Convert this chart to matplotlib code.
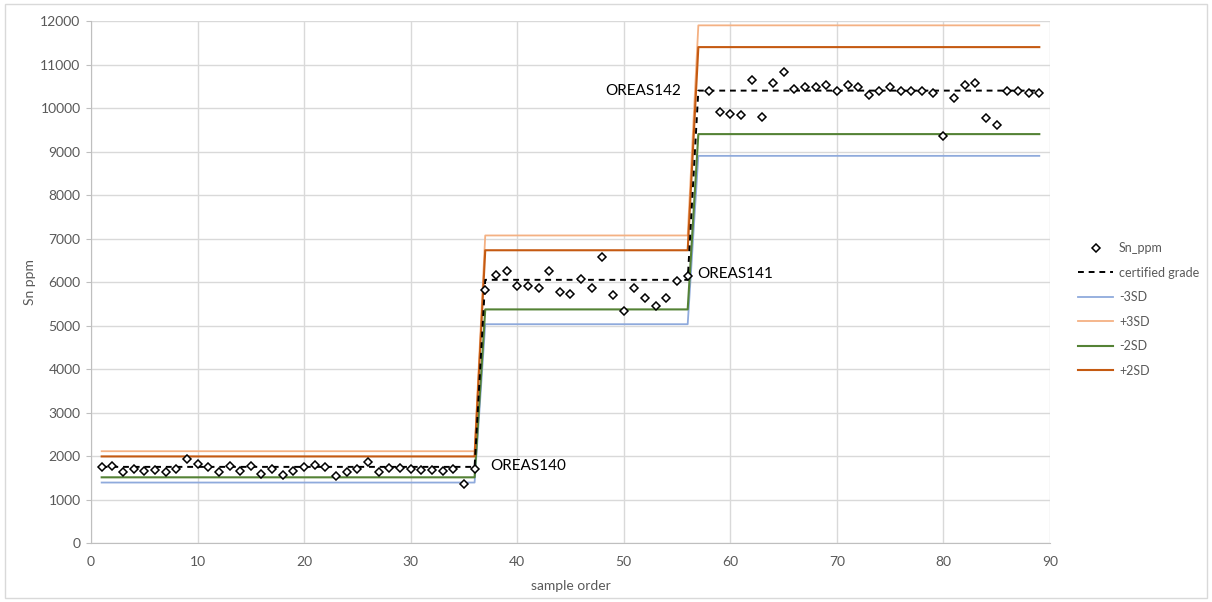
import numpy as np
import matplotlib
matplotlib.use("Agg")
from matplotlib import pyplot as plt
from matplotlib.patches import Rectangle

plt.rcParams['font.family'] = ['Lato', 'DejaVu Sans']

# Sn assay results by sample order (sample 57 not visible in the chart)
sn_ppm = [1740, 1763, 1625, 1708, 1662, 1671, 1632, 1694, 1924, 1823,
          1754, 1632, 1777, 1648, 1777, 1593, 1708, 1563, 1662, 1740,
          1800, 1740, 1547, 1639, 1708, 1855, 1639, 1731, 1731, 1694,
          1678, 1678, 1662, 1701, 1356, 1708,
          5809, 6168, 6246, 5908, 5908, 5855, 6260, 5763, 5732, 6069,
          5855, 6582, 5709, 5341, 5870, 5625, 5448, 5640, 6030, 6138,
          np.nan, 10391, 9908, 9871, 9839, 10637, 9793, 10584, 10837, 10439,
          10492, 10492, 10538, 10391, 10538, 10492, 10294, 10391, 10492, 10391,
          10391, 10391, 10338, 9365, 10237, 10538, 10584, 9763, 9617, 10391,
          10391, 10338, 10338]
sample_order = np.arange(1, len(sn_ppm) + 1)

# standards used, how many consecutive samples each covers, and their limits
standards = ["OREAS140", "OREAS141", "OREAS142"]
n_samples = [36, 20, 33]
certified = [1750, 6050, 10400]
minus_3sd = [1390, 5030, 8900]
plus_3sd = [2110, 7070, 11900]
minus_2sd = [1510, 5370, 9400]
plus_2sd = [1990, 6730, 11400]

# label anchor points (x, y)
label_x = [37.5, 56.9, 48.3]
label_y = [1770, 6180, 10390]

fig = plt.figure(figsize=(12.12, 6.02), dpi=100)
ax = fig.add_axes([0.0751, 0.098, 0.7912, 0.8671])

ax.plot(sample_order, sn_ppm, linestyle='none', marker='D', markersize=4.5,
        markerfacecolor='white', markeredgecolor='black', markeredgewidth=1.1,
        label='Sn_ppm', zorder=5)
ax.plot(sample_order, np.repeat(certified, n_samples), color='black',
        linestyle=(0, (3, 2.5)), linewidth=1.4, label='certified grade', zorder=4)
ax.plot(sample_order, np.repeat(minus_3sd, n_samples), color='#8FAADC',
        linewidth=1.3, label='-3SD', zorder=3)
ax.plot(sample_order, np.repeat(plus_3sd, n_samples), color='#F4B183',
        linewidth=1.3, label='+3SD', zorder=3)
ax.plot(sample_order, np.repeat(minus_2sd, n_samples), color='#548235',
        linewidth=1.5, label='-2SD', zorder=3)
ax.plot(sample_order, np.repeat(plus_2sd, n_samples), color='#C55A11',
        linewidth=1.5, label='+2SD', zorder=3)

for name, lx, ly in zip(standards, label_x, label_y):
    ax.text(lx, ly, name, fontsize=11, color='black', va='center', ha='left', zorder=6)

ax.set_xlim(0, 90)
ax.set_ylim(0, 12000)
ax.set_xticks(np.arange(0, 91, 10))
ax.set_yticks(np.arange(0, 12001, 1000))
ax.grid(True, color='#D9D9D9', linewidth=1)
ax.set_axisbelow(True)
for side in ['top', 'right']:
    ax.spines[side].set_visible(False)
for side in ['left', 'bottom']:
    ax.spines[side].set_color('#BFBFBF')
ax.tick_params(axis='y', colors='#BFBFBF', labelcolor='#595959', labelsize=10, length=3.5, pad=4)
ax.tick_params(axis='x', length=0, labelcolor='#595959', labelsize=10, pad=9)
ax.set_xlabel('sample order', fontsize=10, color='#595959', labelpad=9)
ax.set_ylabel('Sn ppm', fontsize=10, color='#595959', labelpad=3)

leg = ax.legend(loc='upper left', bbox_to_anchor=(1.018, 0.598), frameon=False,
                fontsize=9, labelcolor='#595959', handlelength=2.8,
                labelspacing=1.0, handletextpad=0.45)

# chart area border
fig.patches.append(Rectangle((0.004, 0.006), 0.992, 0.988, transform=fig.transFigure,
                             fill=False, edgecolor='#D9D9D9', linewidth=1))

fig.savefig('out.png', dpi=100)
